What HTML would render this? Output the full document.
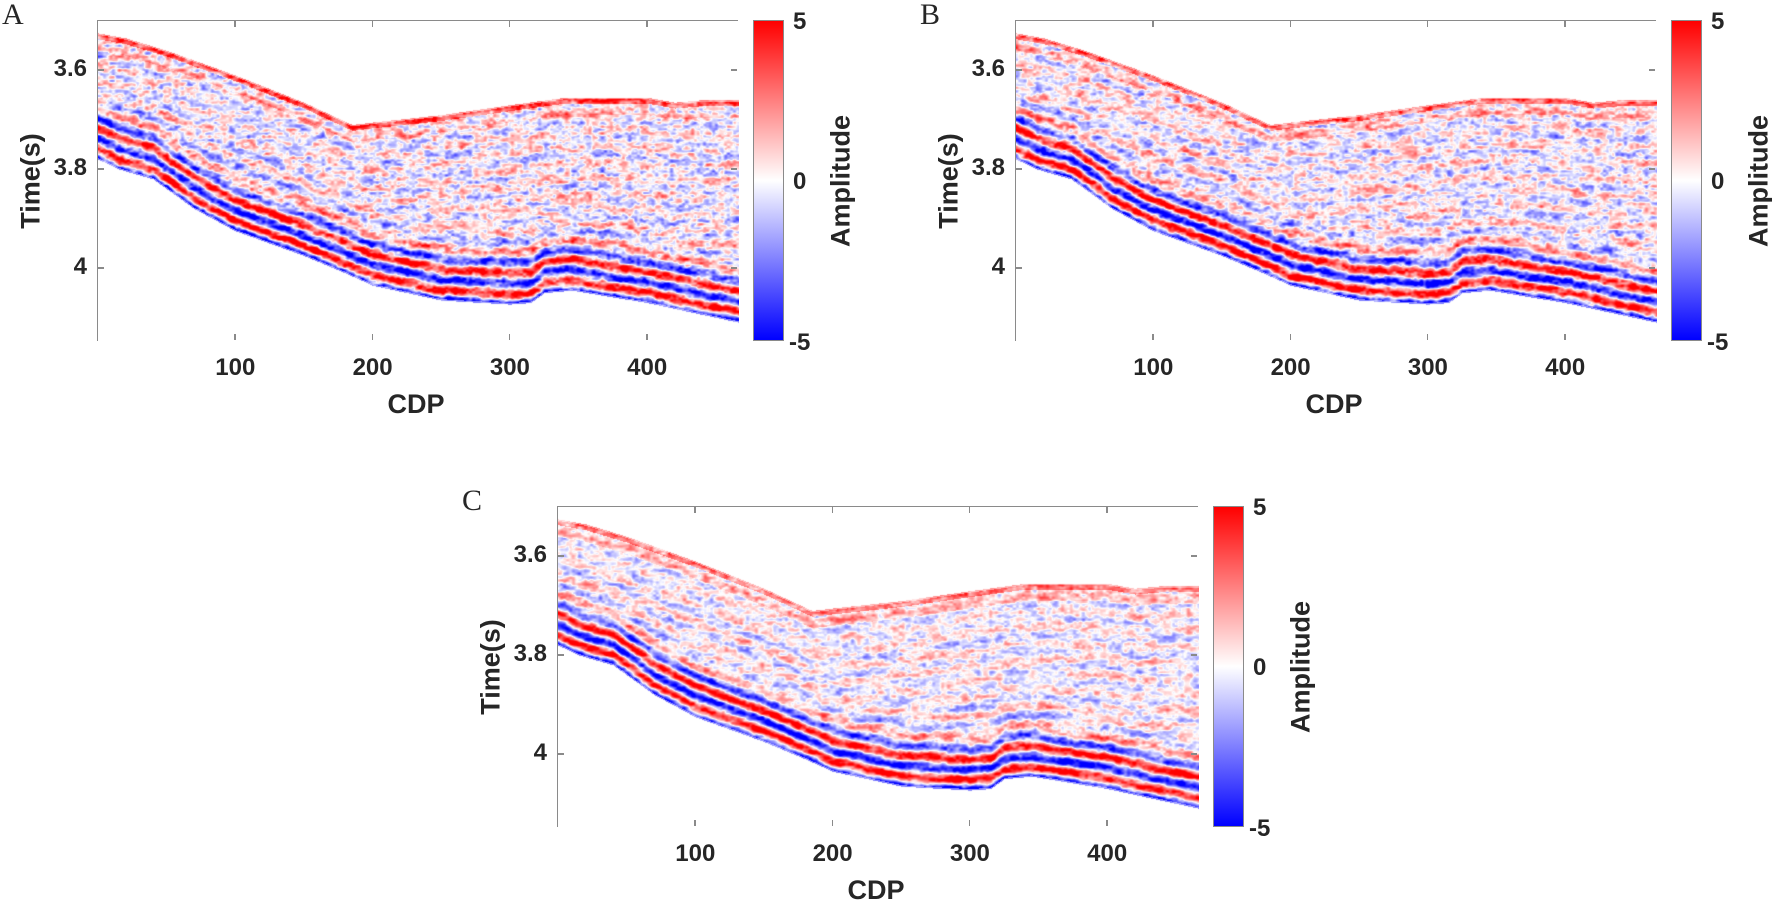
<!DOCTYPE html>
<html><head><meta charset="utf-8">
<style>
html,body{margin:0;padding:0;background:#fff;}
body{width:1772px;height:903px;position:relative;overflow:hidden;font-family:"Liberation Sans",Arial,sans-serif;color:#262626;}
.ax{position:absolute;border:1.5px solid #8a8a8a;box-sizing:border-box;}
.ax canvas{position:absolute;left:0;top:0;}
.tk{position:absolute;background:#8a8a8a;}
.lab{position:absolute;font-weight:bold;font-size:24px;line-height:24px;white-space:nowrap;}
.xl{position:absolute;font-weight:bold;font-size:27px;line-height:27px;}
.yl{position:absolute;font-weight:bold;font-size:27px;transform:translate(-50%,-50%) rotate(-90deg);white-space:nowrap;}
.cb{position:absolute;border:1.5px solid #8a8a8a;box-sizing:border-box;background:linear-gradient(to bottom,#ff0000 0%,#ffffff 50%,#0000ff 100%);}
.let{position:absolute;font-family:"Liberation Serif",serif;font-size:30px;}
</style></head><body>
<script>
function lerpTab(tab,x){
  if(x<=tab[0][0])return tab[0][1];
  for(let i=1;i<tab.length;i++){if(x<=tab[i][0]){const a=tab[i-1],b=tab[i];return a[1]+(b[1]-a[1])*(x-a[0])/(b[0]-a[0]);}}
  return tab[tab.length-1][1];
}
const TOP=[[0,3.525],[20,3.535],[50,3.56],[100,3.61],[150,3.665],[185,3.71],[200,3.705],[250,3.69],[300,3.67],[340,3.655],[400,3.655],[420,3.665],[440,3.66],[467,3.66]];
const BOT=[[0,3.78],[15,3.8],[40,3.82],[70,3.88],[100,3.925],[150,3.975],[180,4.01],[200,4.035],[250,4.065],[300,4.073],[315,4.07],[325,4.05],[345,4.045],[400,4.07],[467,4.11]];
function hash(i,j,s){let h=(i*374761393+j*668265263+s*982451653)|0;h=(h^(h>>>13))*1274126177|0;h^=h>>>16;return ((h>>>0)%10000)/5000-1;}
function vnoise(x,y,s){const xi=Math.floor(x),yi=Math.floor(y),fx=x-xi,fy=y-yi;
  const sx=fx*fx*(3-2*fx),sy=fy*fy*(3-2*fy);
  const a=hash(xi,yi,s),b=hash(xi+1,yi,s),c=hash(xi,yi+1,s),d=hash(xi+1,yi+1,s);
  return a+(b-a)*sx+(c-a)*sy+(a-b-c+d)*sx*sy;}
function add(c,st,txt){const e=document.createElement('div');e.className=c;e.style.cssText=st;if(txt)e.textContent=txt;document.body.appendChild(e);}
function panel(L,T,seed,noiseAmp,label){
  const W=641,H=321,root=document.body;
  const ax=document.createElement('div');ax.className='ax';
  ax.style.cssText=`left:${L}px;top:${T}px;width:${W}px;height:${H}px;`;
  const cv=document.createElement('canvas');cv.width=W;cv.height=H;ax.appendChild(cv);root.appendChild(ax);
  const ctx=cv.getContext('2d');const img=ctx.createImageData(W,H);const d=img.data;
  const y0=T+49;
  for(let px=0;px<W;px++){
    const x=px/1.373;const tt=lerpTab(TOP,x),tb=lerpTab(BOT,x);
    for(let py=0;py<H;py++){
      const t=3.6+(T+py-y0)/495;const k=(py*W+px)*4;
      let v=0,al=0;
      if(t>=tt&&t<=tb){
        const u=tb-t;
        let E=u<0.07?4.8:4.8*Math.exp(-(u-0.07)/0.03)+0.4;
        v=-E*Math.cos(2*Math.PI*u/0.042);
        v+=0.7*Math.sin(2*Math.PI*(t-tt)/0.032+seed);
        v+=noiseAmp*(vnoise(px/7,py/3.5,seed)+0.6*vnoise(px/3,py/2.2,seed+7));
        if(t-tt<0.012)v+=2.2;
        if(t-tt<0.035)v+=0.8;
        if(u<0.003||t-tt<0.003)al=0.5;else al=1;
      }
      v=Math.max(-5,Math.min(5,v))/5;
      let r,g,b;
      if(v>=0){r=255;g=b=Math.round(255*(1-v));}else{b=255;r=g=Math.round(255*(1+v));}
      if(al===0){r=g=b=255;}else if(al<1){r=Math.round(255-(255-r)*al);g=Math.round(255-(255-g)*al);b=Math.round(255-(255-b)*al);}
      d[k]=r;d[k+1]=g;d[k+2]=b;d[k+3]=255;
    }
  }
  ctx.putImageData(img,0,0);
  [100,200,300,400].forEach(c=>{const X=L+c*1.373;
    add('tk',`left:${X}px;top:${T+H-7}px;width:1.5px;height:6px`);
    add('tk',`left:${X}px;top:${T+1}px;width:1.5px;height:6px`);
    add('lab',`left:${X-29}px;top:${T+H+15}px;width:60px;text-align:center`,String(c));});
  [[3.6,'3.6'],[3.8,'3.8'],[4,'4']].forEach(([v,s])=>{const Y=y0+(v-3.6)*495;
    add('tk',`left:${L+1}px;top:${Y}px;width:6px;height:1.5px`);
    add('tk',`left:${L+W-7}px;top:${Y}px;width:6px;height:1.5px`);
    add('lab',`left:${L-66}px;top:${Y-12}px;width:56px;text-align:right`,s);});
  add('xl',`left:${L+W/2-30}px;top:${T+H+50}px`,'CDP');
  add('yl',`left:${L-66}px;top:${T+H/2}px`,'Time(s)');
  const cx=L+W+15;
  add('cb',`left:${cx}px;top:${T}px;width:31px;height:${H}px`);
  add('lab',`left:${cx+40}px;top:${T-10}px`,'5');
  add('lab',`left:${cx+40}px;top:${T+H/2-11}px`,'0');
  add('lab',`left:${cx+36}px;top:${T+H-10}px`,'-5');
  add('yl',`left:${cx+88}px;top:${T+H/2}px`,'Amplitude');
  add('let',`left:${L-95}px;top:${T-22}px`,label);
}
panel(97,20,1,2.0,'A');
panel(1015,20,2,1.9,'B');
panel(557,506,3,1.5,'C');
</script>
</body></html>
